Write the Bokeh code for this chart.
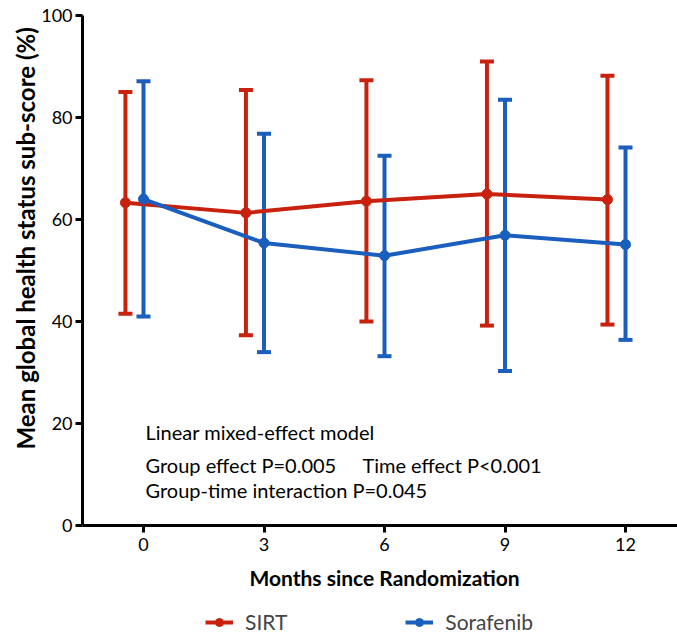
import math
from bokeh.plotting import figure
from bokeh.models import (ColumnDataSource, Range1d, Whisker, TeeHead, Label, LinearAxis,
                          Legend, LegendItem, FixedTicker)
from bokeh.transform import dodge
from bokeh.embed import file_html
from bokeh.resources import INLINE

# ---- data ----
months = [0, 3, 6, 9, 12]
sirt_mean = [63.3, 61.3, 63.6, 65.0, 63.9]
sirt_upper = [85.0, 85.4, 87.3, 91.0, 88.2]
sirt_lower = [41.5, 37.3, 40.0, 39.2, 39.4]
sora_mean = [64.0, 55.4, 52.9, 56.9, 55.1]
sora_upper = [87.1, 76.8, 72.5, 83.5, 74.1]
sora_lower = [41.0, 34.0, 33.2, 30.3, 36.4]
y_ticks = [0, 20, 40, 60, 80, 100]
x_ticks = [0, 3, 6, 9, 12]

RED = "#C8220E"
BLUE = "#1A5EBE"
FONT = "Lato"

X0, X1 = -1.517, 13.294      # x-axis extent (months)
Y0, Y1 = 0, 100              # y-axis extent (%)

src_sirt = ColumnDataSource(dict(x=months, m=sirt_mean, up=sirt_upper, lo=sirt_lower))
src_sora = ColumnDataSource(dict(x=months, m=sora_mean, up=sora_upper, lo=sora_lower))

p = figure(width=677, height=636, output_backend="svg", toolbar_location=None,
           x_range=Range1d(-3.560, 13.294), y_range=Range1d(-21.76, 102.94),
           x_axis_location=None, y_axis_location=None,
           min_border=0)
p.grid.visible = False
p.outline_line_color = None
p.background_fill_color = "white"
p.border_fill_color = "white"

xaxis = LinearAxis(fixed_location=0, bounds=(X0, X1), ticker=FixedTicker(ticks=x_ticks))
yaxis = LinearAxis(fixed_location=X0, bounds=(Y0, Y1), ticker=FixedTicker(ticks=y_ticks))
for ax in (xaxis, yaxis):
    ax.axis_line_width = 3
    ax.axis_line_color = "black"
    ax.major_tick_line_width = 3
    ax.major_tick_out = 7
    ax.major_tick_in = 0
    ax.minor_tick_line_color = None
    ax.major_label_text_font = FONT
    ax.major_label_text_font_size = "18px"
    ax.major_label_text_color = "black"
yaxis.major_label_standoff = 3
xaxis.major_label_standoff = 5
p.add_layout(xaxis, "below")
p.add_layout(yaxis, "left")

# axis titles
p.add_layout(Label(x=-2.95, y=56.3, text="Mean global health status sub-score (%)",
                   angle=math.pi / 2, text_align="center", text_baseline="middle",
                   text_font=FONT, text_font_style="bold", text_font_size="24px",
                   text_color="black"))
p.add_layout(Label(x=6.0, y=-10.2, text="Months since Randomization",
                   text_align="center", text_baseline="middle",
                   text_font=FONT, text_font_style="bold", text_font_size="21px",
                   text_color="black"))

renderers = {}
for src, color, off, name in ((src_sirt, RED, -0.45, "SIRT"), (src_sora, BLUE, 0.0, "Sorafenib")):
    xs = dodge("x", off)
    w = Whisker(source=src, base=xs, upper="up", lower="lo", dimension="height",
                line_color=color, line_width=4,
                upper_head=TeeHead(size=14, line_color=color, line_width=4),
                lower_head=TeeHead(size=14, line_color=color, line_width=4))
    p.add_layout(w)
    ln = p.line(x=xs, y="m", source=src, line_color=color, line_width=4)
    sc = p.scatter(x=xs, y="m", source=src, size=10, fill_color=color, line_color=color)
    renderers[name] = [ln, sc]

for txt, x, y in (("Linear mixed-effect model", 0.05, 18.4),
                  ("Group effect P=0.005", 0.05, 11.9),
                  ("Time effect P<0.001", 5.45, 11.9),
                  ("Group-time interaction P=0.045", 0.05, 6.9)):
    p.add_layout(Label(x=x, y=y, text=txt, text_align="left", text_baseline="middle",
                       text_font=FONT, text_font_size="20px", text_color="black"))

legend = Legend(items=[LegendItem(label="SIRT", renderers=renderers["SIRT"]),
                       LegendItem(label="Sorafenib", renderers=renderers["Sorafenib"])],
                orientation="horizontal", location=(205, 2),
                border_line_color=None, background_fill_alpha=0,
                padding=0, margin=0, spacing=118, label_standoff=12,
                glyph_width=28, glyph_height=20,
                label_text_font=FONT, label_text_font_size="21px")
p.add_layout(legend)

open("out.html", "w").write(file_html(p, INLINE))
